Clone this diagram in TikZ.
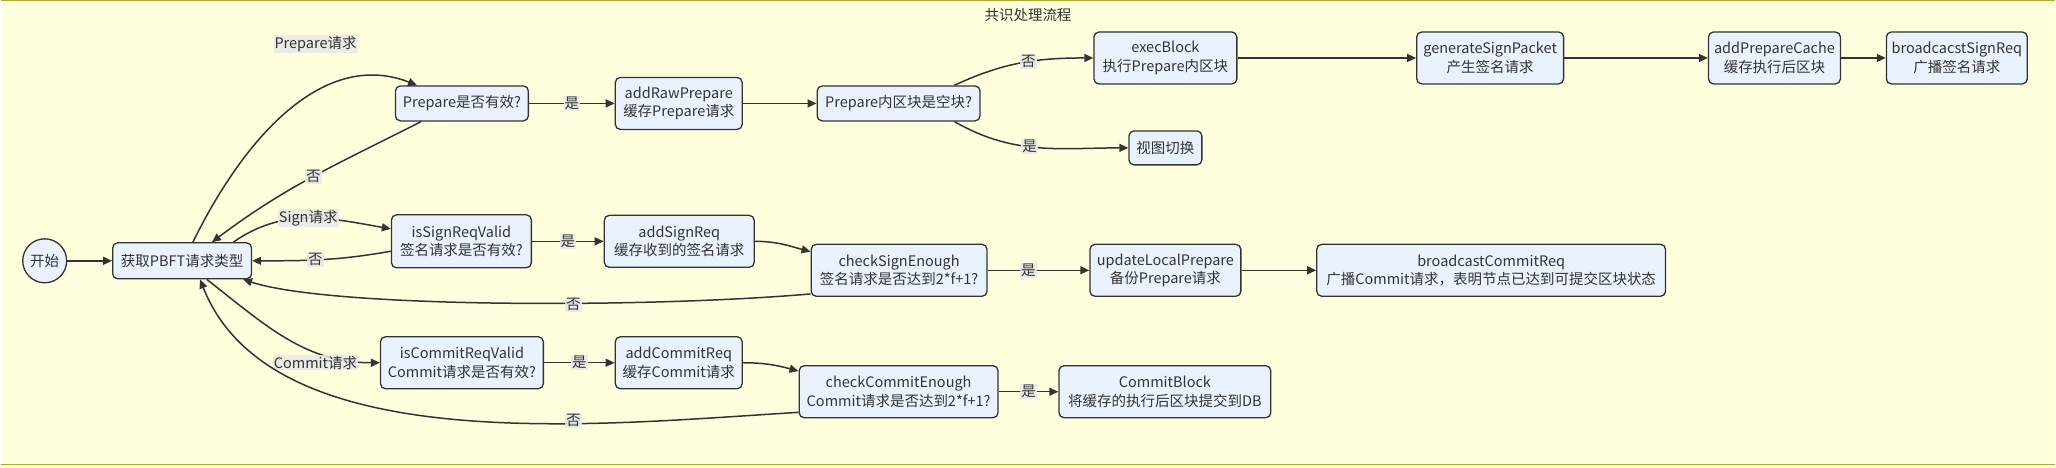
\documentclass[tikz,border=0pt]{standalone}
\usepackage{fontspec}
\setmainfont{Noto Sans CJK SC}
\usetikzlibrary{arrows.meta}
\definecolor{bgfill}{HTML}{FFFFDE}
\definecolor{bgline}{HTML}{AAAA33}
\definecolor{boxfill}{HTML}{EAF2FF}
\definecolor{ink}{HTML}{333333}

\begin{document}
\begin{tikzpicture}
  [
    x=1pt, y=1pt, color=ink,
    font=\fontsize{14.5}{18.5}\selectfont,
    block/.style =
      {draw=ink, fill=boxfill, line width=1.3pt, rounded corners=5pt,
       align=center, inner sep=2pt, minimum height=35pt},
    dual/.style =
      {block, minimum height=52pt},
    lbl/.style =
      {fill=black!9, fill opacity=0.9, text opacity=1, inner sep=1pt},
    flow/.style =
      {draw=ink, line width=1.5pt, -{Triangle[length=9pt,width=8pt]}}
  ]
  \fill [bgfill] (0,0) rectangle (2056,-468);
  \draw [bgline, line width=1.5pt] (0,-0.75) -- (2056,-0.75);
  \draw [bgline, line width=1.5pt] (0,-465) -- (2056,-465);
  \useasboundingbox (0,0) rectangle (2056,-468);

  \node at (1028,-15) (title) {共识处理流程};

  \node [circle, draw=ink, fill=boxfill, line width=1.3pt, minimum size=44pt, inner sep=0pt]
        at (44,-261) (start) {开始};
  \node [block, minimum width=139pt, minimum height=36pt] at (181.5,-261) (get) {获取PBFT请求类型};

  \node [block, minimum width=133pt] at (461.5,-103.5) (pvalid)  {Prepare是否有效?};
  \node [dual,  minimum width=127pt] at (678.5,-103.5) (rawprep) {addRawPrepare\\缓存Prepare请求};
  \node [block, minimum width=163pt] at (898.5,-103.5) (empty)   {Prepare内区块是空块?};
  \node [dual,  minimum width=143pt] at (1165.5,-58)   (exec)    {execBlock\\执行Prepare内区块};
  \node [block, minimum width=73pt, minimum height=34pt] at (1165.5,-148) (view) {视图切换};
  \node [dual,  minimum width=147pt] at (1490.5,-58)   (gensign) {generateSignPacket\\产生签名请求};
  \node [dual,  minimum width=132pt] at (1775,-58)     (cache)   {addPrepareCache\\缓存执行后区块};
  \node [dual,  minimum width=141pt] at (1957.5,-58)   (bcsign)  {broadcacstSignReq\\广播签名请求};

  \node [dual, minimum width=140pt, minimum height=53pt] at (461,-241.5) (svalid) {isSignReqValid\\签名请求是否有效?};
  \node [dual, minimum width=150pt] at (679,-241.5)    (addsign)  {addSignReq\\缓存收到的签名请求};
  \node [dual, minimum width=176pt] at (899,-270.5)    (signok)   {checkSignEnough\\签名请求是否达到2*f+1?};
  \node [dual, minimum width=151pt] at (1165.5,-270.5) (update)   {updateLocalPrepare\\备份Prepare请求};
  \node [dual, minimum width=349pt] at (1491.5,-270.5) (bccommit) {broadcastCommitReq\\广播Commit请求，表明节点已达到可提交区块状态};

  \node [dual, minimum width=163pt] at (461.5,-363) (cvalid)    {isCommitReqValid\\Commit请求是否有效?};
  \node [dual, minimum width=127pt] at (678.5,-363) (addcommit) {addCommitReq\\缓存Commit请求};
  \node [dual, minimum width=199pt] at (898.5,-392) (commitok)  {checkCommitEnough\\Commit请求是否达到2*f+1?};
  \node [dual, minimum width=212pt] at (1165,-392)  (commitblk) {CommitBlock\\将缓存的执行后区块提交到DB};

  \draw[flow] (start) -- (get);

  % prepare branch
  \draw[flow] (get.60) .. controls +(53,108) and +(-92,36) .. (pvalid.158)
    node[lbl] at (315,-44) {Prepare请求};
  \draw[flow] (pvalid.204) to[out=207,in=37] node[lbl, pos=0.5] {否} (get.32);
  \draw[flow] (pvalid) -- node[lbl] {是} (rawprep);
  \draw[flow] (rawprep) -- (empty);
  \draw[flow] (empty.18) to[out=25,in=180] node[lbl, pos=0.55] {否} (exec.west);
  \draw[flow] (empty.-18) to[out=-30,in=180] node[lbl, pos=0.45] {是} (view.west);
  \draw[flow] (exec) -- (gensign);
  \draw[flow] (gensign) -- (cache);
  \draw[flow] (cache) -- (bcsign);

  % sign branch
  \draw[flow] (get.20) to[out=35,in=170] node[lbl, pos=0.5] {Sign请求} (svalid.170);
  \draw[flow] (svalid.188) to[out=190,in=0] node[lbl, pos=0.55] {否} (get.east);
  \draw[flow] (svalid) -- node[lbl] {是} (addsign);
  \draw[flow] (addsign.east) to[out=0,in=165] ([yshift=-8pt]signok.north west);
  \draw[flow] ([yshift=3pt]signok.south west) .. controls +(-161,-14) and +(89,-29) .. (get.-17)
    node[lbl] at (573,-305) {否};
  \draw[flow] (signok) -- node[lbl, pos=0.4] {是} (update);
  \draw[flow] (update) -- (bccommit);

  % commit branch
  \draw[flow] (get.-37) to[out=-38,in=180] (cvalid.west)
    node[lbl] at (315,-363) {Commit请求};
  \draw[flow] (cvalid) -- node[lbl] {是} (addcommit);
  \draw[flow] (addcommit.east) to[out=0,in=165] ([yshift=-6pt]commitok.north west);
  \draw[flow] ([yshift=6pt]commitok.south west) .. controls +(-199,-12) and +(71,-181) .. (get.-46)
    node[lbl] at (573,-421) {否};
  \draw[flow] (commitok) -- node[lbl] {是} (commitblk);
\end{tikzpicture}
\end{document}
